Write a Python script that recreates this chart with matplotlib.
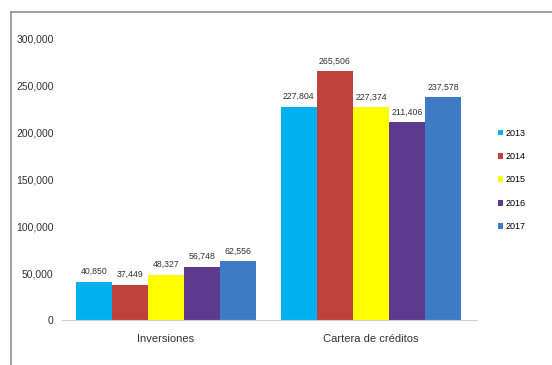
import matplotlib
matplotlib.use("Agg")
import matplotlib.pyplot as plt
import numpy as np
from matplotlib.lines import Line2D

plt.rcParams["font.family"] = ["Liberation Sans", "DejaVu Sans"]

categories = ["Inversiones", "Cartera de créditos"]
years = ["2013", "2014", "2015", "2016", "2017"]
values = {
    "2013": [40850, 227804],
    "2014": [37449, 265506],
    "2015": [48327, 227374],
    "2016": [56748, 211406],
    "2017": [62556, 237578],
}
colors = ["#00B0F0", "#C0403C", "#FFFF00", "#5E3A8C", "#3F7BC4"]
yticks = [0, 50000, 100000, 150000, 200000, 250000, 300000]

fig = plt.figure(figsize=(5.52, 3.65), dpi=100)
ax = fig.add_axes([0.1123, 0.1233, 0.752, 0.770])

x = np.arange(len(categories))
width = 0.176
for i, (year, color) in enumerate(zip(years, colors)):
    offs = (i - 2) * width
    bars = ax.bar(x + offs, values[year], width, color=color, label=year)
    for b, v in zip(bars, values[year]):
        ax.text(b.get_x() + b.get_width() / 2, v + 6000, f"{v:,}",
                ha="center", va="bottom", fontsize=6.3, color="#333333")

ax.set_xlim(-0.507, 1.517)
ax.set_ylim(0, 300000)
ax.set_yticks(yticks)
ax.set_yticklabels([f"{t:,}" for t in yticks], fontsize=7.5, color="#333333")
ax.set_xticks(x)
ax.set_xticklabels(categories, fontsize=8, color="#333333")
ax.tick_params(length=0, pad=6)
ax.tick_params(axis="x", pad=10)
for s in ["top", "right", "left"]:
    ax.spines[s].set_visible(False)
ax.spines["bottom"].set_color("#d0d0d0")

ax.legend(loc="upper left", bbox_to_anchor=(1.03, 0.71), frameon=False,
          fontsize=6.5, handlelength=0.6, handleheight=0.6,
          handletextpad=0.3, labelspacing=1.6)

# border of the original chart box (cropped image)
fig.add_artist(Line2D([11 / 552, 1.0], [1 - 12 / 365, 1 - 12 / 365],
                      color="#909090", lw=1.2, transform=fig.transFigure))
fig.add_artist(Line2D([11 / 552, 11 / 552], [0.0, 1 - 12 / 365],
                      color="#909090", lw=1.2, transform=fig.transFigure))

fig.savefig("out.png", dpi=100)
